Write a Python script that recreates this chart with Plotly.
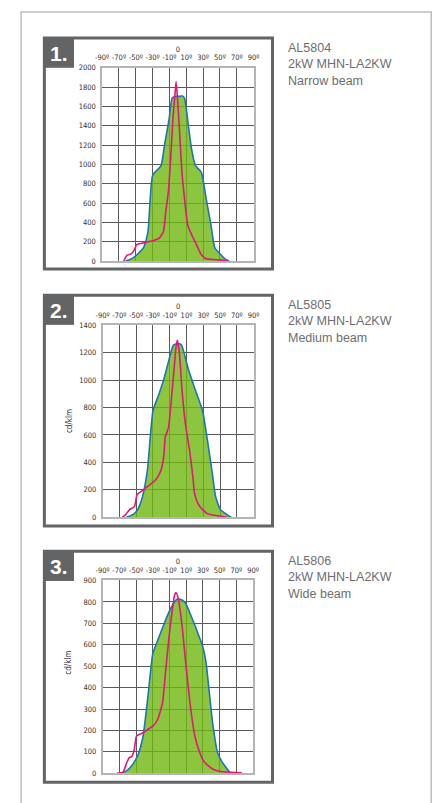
import plotly.graph_objects as go

W, H = 445, 803

# panel 1 - AL5804 narrow beam
p1_blue_x = [-62, -53, -41, -35.5, -30, -20, -16, -10.5, -6.7, -1.7, 2, 4.8, 7.9, 12.5, 16.3, 20.9, 27.8, 33.6, 39.3, 44, 50.9, 56.6, 61]
p1_blue_y = [0, 34, 136, 307, 886, 988, 1192, 1465, 1687, 1704, 1704, 1710, 1687, 1397, 1158, 988, 920, 647, 375, 136, 68, 17, 0]
p1_pink_x = [-64.3, -60.4, -55.5, -51.6, -48.9, -41.3, -29.7, -22.1, -17.1, -14.4, -11.3, -8.6, -5.9, -3.6, -2.1, -0.6, 2.1, 4.8, 7.9, 11.7, 16.3, 22.1, 27.8, 33.6, 41.3, 50.9, 58.5]
p1_pink_y = [0, 61, 75, 119, 170, 187, 211, 238, 307, 511, 716, 1056, 1465, 1704, 1857, 1704, 1329, 920, 647, 375, 273, 170, 68, 24, 17, 10, 0]

# panel 2 - AL5805 medium beam
p2_blue_x = [-61.7, -54, -48.2, -42.4, -36.6, -30, -23, -17.2, -11.4, -5.6, 0.2, 4.1, 11.8, 19.6, 29.2, 35, 40.8, 44.7, 50.5, 58.3, 63.3]
p2_blue_y = [0, 19, 55, 151, 343, 776, 896, 1004, 1136, 1256, 1268, 1256, 1088, 944, 776, 560, 319, 151, 55, 19, 0]
p2_pink_x = [-66.4, -62.5, -57.9, -52, -49, -44.3, -36.6, -26.9, -21.1, -17.2, -15.3, -11.4, -7.5, -4.4, -2.9, -1, 1.4, 4.8, 8.7, 13.7, 17.6, 19.6, 23.4, 29.2, 35, 42.8, 50.5, 58.3]
p2_pink_y = [0, 19, 55, 79, 163, 187, 223, 271, 331, 439, 584, 656, 896, 1112, 1220, 1292, 1208, 920, 680, 488, 295, 175, 103, 55, 26, 14, 7, 0]

# panel 3 - AL5806 wide beam
p3_blue_x = [-72, -66.8, -61, -55.2, -47.4, -41.6, -35.8, -30, -24.2, -16.5, -12.6, -6.8, -1, 2.9, 8.7, 16.5, 24.2, 30, 33.9, 37.7, 41.6, 47.4, 53.2, 59, 62.9]
p3_blue_y = [0, 2, 12, 35, 89, 174, 358, 558, 620, 697, 735, 782, 812, 812, 797, 728, 651, 589, 512, 374, 235, 97, 51, 20, 0]
p3_pink_x = [-72.6, -65.6, -61, -57.9, -55.2, -52.1, -49.4, -41.6, -35.8, -30, -24.2, -18.4, -14.5, -10.6, -6.8, -3.7, -2.1, 0.2, 4.8, 9.5, 14.5, 20.3, 26.1, 31.9, 41.6, 51.3, 62.9, 76.5]
p3_pink_y = [0, 5, 51, 74, 77, 112, 174, 189, 205, 220, 251, 328, 482, 635, 758, 835, 843, 820, 697, 512, 328, 174, 97, 51, 20, 8, 5, 2]

angle_ticks = [-90, -70, -50, -30, -10, 10, 30, 50, 70, 90]
angle_labels = ["-90º", "-70º", "-50º", "-30º", "-10º", "10º", "30º", "50º", "70º", "90º"]

panels = [
    dict(bx=p1_blue_x, by=p1_blue_y, px=p1_pink_x, py=p1_pink_y, ymax=2000, dy=200,
         plot=(98, 254, 64.5, 260), box=(38.5, 273.5, 34.5, 268), num="1.",
         text="AL5804<br>2kW MHN-LA2KW<br>Narrow beam", ylab=False),
    dict(bx=p2_blue_x, by=p2_blue_y, px=p2_pink_x, py=p2_pink_y, ymax=1400, dy=200,
         plot=(98.5, 254, 325, 519), box=(38.5, 273.5, 294.5, 528), num="2.",
         text="AL5805<br>2kW MHN-LA2KW<br>Medium beam", ylab=True),
    dict(bx=p3_blue_x, by=p3_blue_y, px=p3_pink_x, py=p3_pink_y, ymax=900, dy=100,
         plot=(98.5, 253.5, 583, 778), box=(38.5, 273.5, 553.5, 787), num="3.",
         text="AL5806<br>2kW MHN-LA2KW<br>Wide beam", ylab=True),
]

GREEN = "rgba(111,184,15,0.8)"
BLUE = "#1b75bc"
PINK = "#e6157b"
DARK = "#636466"
TICKFONT = dict(family="Liberation Sans Narrow, DejaVu Sans Condensed, Arial Narrow, sans-serif", size=7.5, color="#333")

fig = go.Figure()
shapes = []
annotations = []

def px_x(v):
    return v / W

def px_y(v):
    return 1 - v / H

# outer light frame
shapes.append(dict(type="rect", xref="paper", yref="paper", x0=px_x(14.5), x1=px_x(437), y0=px_y(815), y1=px_y(8),
                   line=dict(color="#bdbdbd", width=1.5)))

for i, p in enumerate(panels):
    n = "" if i == 0 else str(i + 1)
    xa, ya = "x" + n, "y" + n
    xo = "x" + str(i + 4)  # overlay axis: same range, carries the "0" label
    fig.add_trace(go.Scatter(x=p["bx"], y=p["by"], mode="lines", fill="tozeroy", fillcolor=GREEN,
                             line=dict(color=BLUE, width=1.6, shape="spline", smoothing=0.5),
                             xaxis=xa, yaxis=ya, showlegend=False, hoverinfo="skip"))
    fig.add_trace(go.Scatter(x=p["px"], y=p["py"], mode="lines",
                             line=dict(color=PINK, width=1.6, shape="spline", smoothing=0.5),
                             xaxis=xo, yaxis=ya, showlegend=False, hoverinfo="skip"))

    l, r, t, b = p["plot"]
    fig.update_layout({
        "xaxis" + n: dict(domain=[px_x(l), px_x(r)], range=[-90, 90], anchor=ya, side="top",
                          tickvals=angle_ticks, ticktext=angle_labels, tickfont=TICKFONT,
                          ticks="outside", ticklen=3, tickcolor="rgba(0,0,0,0)",
                          showgrid=True, gridcolor="#5a5a5a", gridwidth=1.1, zeroline=False,
                          showline=True, linecolor="#b5b5b5", linewidth=1.5, mirror=True,
                          fixedrange=True),
        "xaxis" + str(i + 4): dict(overlaying=xa, anchor=ya, side="top", range=[-90, 90],
                                   tickvals=[0], ticktext=["0"], tickfont=TICKFONT,
                                   ticks="outside", ticklen=12, tickcolor="rgba(0,0,0,0)",
                                   showgrid=False, zeroline=False, showline=False, fixedrange=True),
        "yaxis" + n: dict(domain=[px_y(b), px_y(t)], range=[0, p["ymax"]], anchor=xa,
                          tickvals=list(range(0, p["ymax"] + 1, p["dy"])), tickfont=TICKFONT,
                          ticks="outside", ticklen=3, tickcolor="rgba(0,0,0,0)",
                          showgrid=True, gridcolor="#5a5a5a", gridwidth=1.1, zeroline=False,
                          showline=True, linecolor="#b5b5b5", linewidth=1.5, mirror=True,
                          fixedrange=True),
    })

    # panel frame and number box
    x0, x1, y0, y1 = p["box"]
    shapes.append(dict(type="rect", xref="paper", yref="paper", x0=px_x(x0), x1=px_x(x1), y0=px_y(y1), y1=px_y(y0),
                       line=dict(color=DARK, width=3)))
    shapes.append(dict(type="rect", xref="paper", yref="paper", x0=px_x(x0), x1=px_x(69), y0=px_y(y0 + 30), y1=px_y(y0),
                       line=dict(width=0), fillcolor=DARK))
    annotations.append(dict(text="<b>" + p["num"] + "</b>", xref="paper", yref="paper",
                            x=px_x(54), y=px_y(y0 + 15.5), xanchor="center", yanchor="middle", showarrow=False,
                            font=dict(family="Liberation Sans, Arial, sans-serif", size=21, color="white")))
    annotations.append(dict(text=p["text"], xref="paper", yref="paper", x=px_x(287), y=px_y(y0 + 1),
                            xanchor="left", yanchor="top", align="left", showarrow=False,
                            font=dict(family="Liberation Sans, Arial, sans-serif", size=12.5, color="#6d6e71")))
    if p["ylab"]:
        annotations.append(dict(text="cd/klm", xref="paper", yref="paper", x=px_x(57), y=px_y((t + b) / 2),
                                textangle=-90, showarrow=False,
                                font=dict(family=TICKFONT["family"], size=8, color="#333")))

fig.update_layout(width=W, height=H, margin=dict(l=0, r=0, t=0, b=0),
                  paper_bgcolor="white", plot_bgcolor="white",
                  shapes=shapes, annotations=annotations, showlegend=False)

# drop the browser's default body margin so the figure sits at the page origin
fig.write_html("out.html", config={"displayModeBar": False},
               post_script="document.body.style.margin='0';document.body.style.overflow='hidden';")
